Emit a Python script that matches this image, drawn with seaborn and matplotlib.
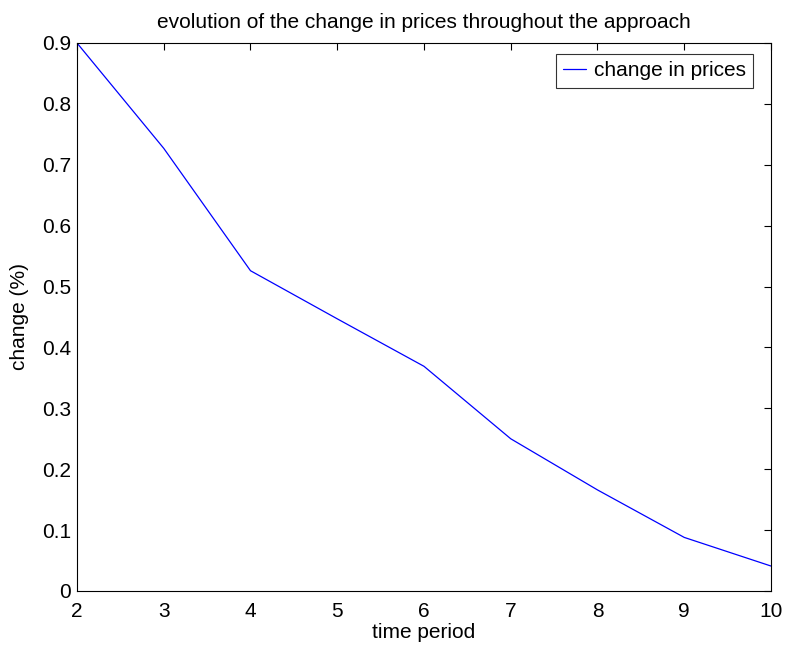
import matplotlib
matplotlib.use("Agg")
import matplotlib.pyplot as plt
import seaborn as sns
import pandas as pd

time_period = [2, 3, 4, 5, 6, 7, 8, 9, 10]
change = [0.900, 0.727, 0.526, 0.447, 0.369, 0.250, 0.166, 0.088, 0.041]
x_ticks = [2, 3, 4, 5, 6, 7, 8, 9, 10]
y_ticks = [0, 0.1, 0.2, 0.3, 0.4, 0.5, 0.6, 0.7, 0.8, 0.9]

sns.set_theme(style="white", rc={"text.color": "black",
                                 "axes.labelcolor": "black",
                                 "xtick.color": "black",
                                 "ytick.color": "black"})
plt.rcParams['font.family'] = ['Liberation Sans', 'DejaVu Sans']

df = pd.DataFrame({"time period": time_period, "change": change})

FS = 15
fig = plt.figure(figsize=(7.86, 6.52), dpi=100)
ax = fig.add_axes([77/786, 1 - 591/652, (771-77)/786, (591-43)/652])
sns.lineplot(data=df, x="time period", y="change", ax=ax, color="#0000ff",
             linewidth=0.9, label="change in prices")

ax.set_xlim(2, 10)
ax.set_ylim(0, 0.9)
ax.set_xticks(x_ticks)
ax.set_yticks(y_ticks)
ax.set_xticklabels([str(v) for v in x_ticks])
ax.set_yticklabels([f"{v:g}" for v in y_ticks])
ax.tick_params(direction="in", length=5, width=0.8, top=True, right=True,
               labelsize=FS, colors="black")
ax.tick_params(axis="x", pad=8)
ax.tick_params(axis="y", pad=4.3)
for s in ax.spines.values():
    s.set_color("black")
    s.set_linewidth(0.8)
    s.set_visible(True)

ax.set_xlabel("time period", fontsize=FS, labelpad=1)
ax.set_ylabel("change (%)", fontsize=FS, labelpad=9.5)
ax.set_title("evolution of the change in prices throughout the approach",
             fontsize=FS, pad=11)

leg = ax.legend(loc="upper right", bbox_to_anchor=(0.974, 0.980),
                fontsize=FS, frameon=True, fancybox=False,
                handlelength=1.1, handletextpad=0.35, borderaxespad=0,
                borderpad=0.35)
leg.get_frame().set_edgecolor("black")
leg.get_frame().set_linewidth(0.8)

fig.savefig("out.png", dpi=100, facecolor="white")
